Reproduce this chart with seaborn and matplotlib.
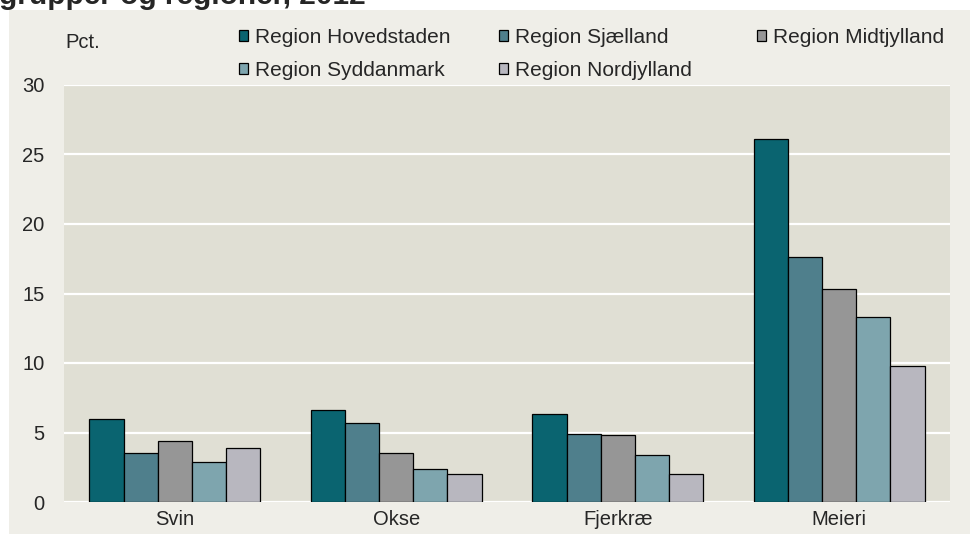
import numpy as np
import pandas as pd
import matplotlib
matplotlib.use("Agg")
import matplotlib.pyplot as plt
import matplotlib.patches as mpatches
import seaborn as sns

# ── data ────────────────────────────────────────────────────
categories = ["Svin", "Okse", "Fjerkræ", "Meieri"]
regions = ["Region Hovedstaden", "Region Sjælland", "Region Midtjylland",
           "Region Syddanmark", "Region Nordjylland"]
hovedstaden = [6.0, 6.6, 6.3, 26.1]
sjaelland   = [3.5, 5.7, 4.9, 17.6]
midtjylland = [4.4, 3.5, 4.8, 15.3]
syddanmark  = [2.9, 2.4, 3.4, 13.3]
nordjylland = [3.9, 2.0, 2.0, 9.8]
colors = ["#0a6470", "#4f7f8c", "#969696", "#7ea5ae", "#b8b7bf"]
yticks = [0, 5, 10, 15, 20, 25, 30]

series = [hovedstaden, sjaelland, midtjylland, syddanmark, nordjylland]
df = pd.DataFrame([
    {"kategori": c, "region": r, "pct": v}
    for r, vals in zip(regions, series)
    for c, v in zip(categories, vals)
])

# ── style ───────────────────────────────────────────────────
sns.set_style("white")
plt.rcParams["font.family"] = ["Liberation Sans", "DejaVu Sans"]
FS = 14.5

fig = plt.figure(figsize=(9.8, 5.34), dpi=100)
fig.patch.set_facecolor("white")
# light panel behind the chart
fig.patches.append(mpatches.Rectangle((9 / 980, 0), 961 / 980, 1 - 10 / 534,
                                      transform=fig.transFigure,
                                      facecolor="#efeee8", edgecolor="none",
                                      zorder=-10))

ax = fig.add_axes([64 / 980, 32 / 534, 886 / 980, 417 / 534])
ax.set_facecolor("#e0dfd4")

sns.barplot(data=df, x="kategori", y="pct", hue="region",
            hue_order=regions, order=categories, palette=colors,
            saturation=1, width=0.77, edgecolor="black", linewidth=0.9,
            errorbar=None, ax=ax, legend=False, zorder=3)

ax.set_ylim(0, 30)
ax.set_xlim(-0.5, len(categories) - 0.5)
ax.set_yticks(yticks)
ax.yaxis.grid(True, color="white", linewidth=1.6, zorder=1)
ax.set_axisbelow(True)
for s in ax.spines.values():
    s.set_visible(False)
ax.tick_params(axis="y", length=0, pad=14, labelsize=FS)
ax.tick_params(axis="x", length=0, pad=6, labelsize=FS)
ax.set_xlabel("")
ax.set_ylabel("")

# ── texts ───────────────────────────────────────────────────
fig.text(-1 / 980, 1 - 4 / 534, "grupper og regioner, 2012",
         fontsize=21.5, fontweight="bold", va="baseline", ha="left")
fig.text(65 / 980, 1 - 43 / 534, "Pct.", fontsize=FS, va="center", ha="left")

# legend: two columns + a separate third column (Midtjylland) so the
# column starts line up with the reference
handles = [mpatches.Patch(facecolor=c, edgecolor="black", linewidth=0.9)
           for c in colors]
leg_kw = dict(loc="upper left", frameon=False, fontsize=15, borderpad=0,
              borderaxespad=0, handlelength=0.45, handleheight=0.45,
              handletextpad=0.3, labelspacing=0.65)
order = [0, 3, 1, 4]
fig.legend([handles[i] for i in order], [regions[i] for i in order],
           ncol=2, bbox_to_anchor=(239 / 980, 1 - 28 / 534),
           columnspacing=2.35, **leg_kw)
fig.legend([handles[2]], [regions[2]],
           bbox_to_anchor=(757 / 980, 1 - 28 / 534), **leg_kw)

plt.savefig("out.png", dpi=100)
